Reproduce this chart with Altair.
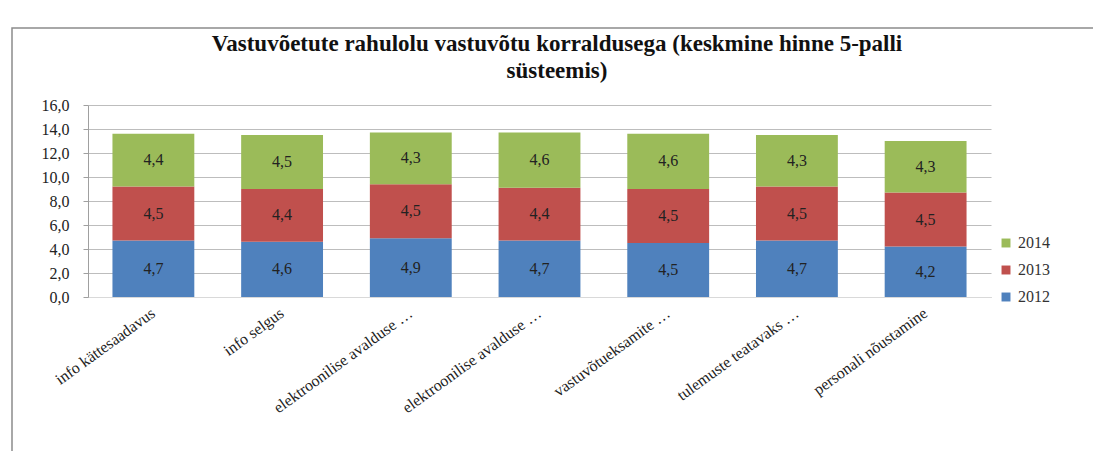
import altair as alt
import pandas as pd

categories = [
    "info kättesaadavus",
    "info selgus",
    "elektroonilise avalduse …",
    "elektroonilise avalduse …",
    "vastuvõtueksamite …",
    "tulemuste teatavaks …",
    "personali nõustamine",
]
cat_ids = [f"c{i}" for i in range(len(categories))]
v2012 = [4.7, 4.6, 4.9, 4.7, 4.5, 4.7, 4.2]
v2013 = [4.5, 4.4, 4.5, 4.4, 4.5, 4.5, 4.5]
v2014 = [4.4, 4.5, 4.3, 4.6, 4.6, 4.3, 4.3]
years = ["2012", "2013", "2014"]
y_ticks = [0, 2, 4, 6, 8, 10, 12, 14, 16]
title_lines = ["Vastuvõetute rahulolu vastuvõtu korraldusega (keskmine hinne 5-palli",
               "süsteemis)"]

rows = []
for i, cid in enumerate(cat_ids):
    for yr, vals in zip(years, [v2012, v2013, v2014]):
        rows.append({"cid": cid, "year": yr, "value": vals[i], "ord": years.index(yr)})
df = pd.DataFrame(rows)

label_map = "{" + ",".join(f"'{c}':'{l}'" for c, l in zip(cat_ids, categories)) + "}"

serif = "Liberation Serif"
x_axis = alt.Axis(labelAngle=-36, labelAlign="right", labelBaseline="middle",
                  labelFont=serif, labelFontSize=16, labelColor="#222",
                  labelPadding=14, ticks=False, domainColor="#d9d9d9",
                  labelExpr=label_map + "[datum.value]", labelLimit=400)
x_scale = alt.Scale(paddingInner=0.364, paddingOuter=0.19)
y_axis = alt.Axis(values=y_ticks, labelFont=serif, labelFontSize=16,
                  labelColor="#222", labelOverlap=False,
                  labelExpr="replace(format(datum.value,'.1f'),'.',',')",
                  gridColor="#bdbdbd", domainColor="#a0a0a0", tickColor="#a0a0a0",
                  tickSize=5, labelPadding=14)
y_scale = alt.Scale(domain=[0, 16], nice=False)

base = alt.Chart(df)

bars = base.mark_bar().encode(
    x=alt.X("cid:N", sort=cat_ids, title=None, scale=x_scale, axis=x_axis),
    y=alt.Y("value:Q", stack="zero", title=None, scale=y_scale, axis=y_axis),
    color=alt.Color("year:N", title=None,
                    scale=alt.Scale(domain=["2014", "2013", "2012"],
                                    range=["#9BBB59", "#C0504D", "#4F81BD"]),
                    legend=alt.Legend(orient="none", legendX=910, legendY=130,
                                      symbolType="square", symbolSize=80,
                                      symbolStrokeWidth=0, labelFont=serif,
                                      labelFontSize=16, labelColor="#333",
                                      rowPadding=11, labelOffset=4)),
    order=alt.Order("ord:Q", sort="ascending"),
)

texts = base.transform_stack(
    stack="value", groupby=["cid"], as_=["y0", "y1"],
    sort=[alt.SortField("ord", order="ascending")],
).transform_calculate(
    mid="(datum.y0 + datum.y1) / 2",
    lab="replace(format(datum.value,'.1f'),'.',',')",
).mark_text(font=serif, fontSize=16, color="#222").encode(
    x=alt.X("cid:N", sort=cat_ids, title=None, scale=x_scale, axis=x_axis),
    y=alt.Y("mid:Q", title=None, scale=y_scale, axis=y_axis),
    text="lab:N",
)

frame = alt.Chart(pd.DataFrame({"a": [0]})).mark_rect(
    fill=None, stroke="#8c8c8c", strokeWidth=1.5, clip=False
).encode(
    x=alt.value(-76), x2=alt.value(1200), y=alt.value(-77), y2=alt.value(400)
)

title_df = pd.DataFrame({"t": title_lines})
title1 = alt.Chart(title_df.iloc[[0]]).mark_text(
    font=serif, fontSize=23, fontWeight="bold", color="#111", clip=False
).encode(x=alt.value(469), y=alt.value(-61), text="t:N")
title2 = alt.Chart(title_df.iloc[[1]]).mark_text(
    font=serif, fontSize=23, fontWeight="bold", color="#111", clip=False
).encode(x=alt.value(469), y=alt.value(-34), text="t:N")

chart = alt.layer(frame, bars, texts, title1, title2).properties(
    width=903, height=192,
    autosize=alt.AutoSizeParams(type="none"),
    padding={"left": 80, "top": 97, "right": 102, "bottom": 154},
).configure_view(stroke=None)

chart.save("out.html", embed_options={"renderer": "svg", "actions": False})
